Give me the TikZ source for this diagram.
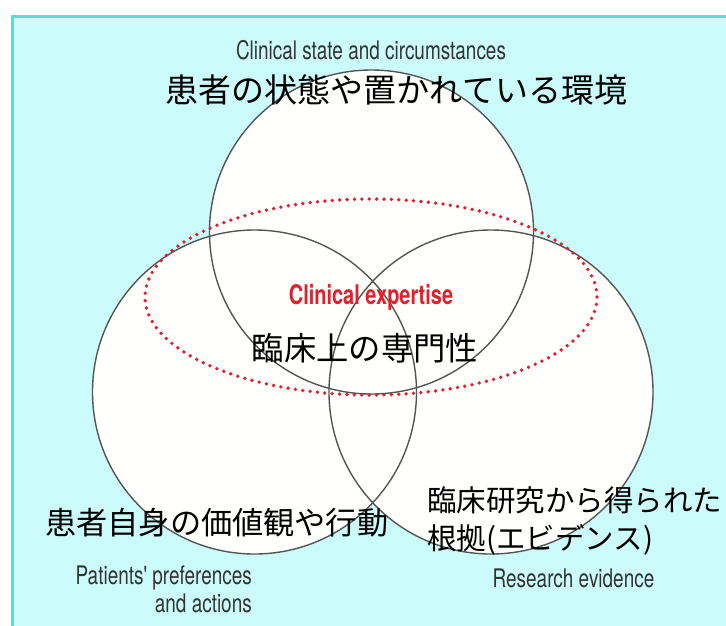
\documentclass[tikz,border=0pt]{standalone}
\usepackage{fontspec}
\newfontfamily\jp{Noto Sans CJK JP}
\newfontfamily\cond[FakeStretch=0.74]{TeX Gyre Heros}
\definecolor{bgc}{HTML}{CCFBFB}
\definecolor{framec}{HTML}{4FE2DA}
\definecolor{circline}{HTML}{555555}
\definecolor{circfill}{HTML}{FFFFFD}
\definecolor{redc}{HTML}{E0202C}
\definecolor{entext}{HTML}{333333}
\begin{document}
\begin{tikzpicture}[x=1pt,y=-1pt,
  venn/.style={draw=circline, line width=1.4pt},
  entxt/.style={text=entext, font=\cond\fontsize{25.6}{28}\selectfont, inner sep=0pt},
  jptxt/.style={text=black, inner sep=0pt},
  expert/.style={draw=redc, line width=3.8pt, line cap=round, dash pattern=on 0pt off 7.4pt}]
\useasboundingbox (0,0) rectangle (726,625);
\fill[white] (0,0) rectangle (726,625);
\begin{scope}
  \clip (0,0) rectangle (726,625);
  \draw[framec, line width=3pt, fill=bgc] (12.5,16) rectangle (760,660);
\end{scope}
% circle fills
\coordinate (ctop) at (371.5,232);
\coordinate (cleft) at (254.5,392);
\coordinate (cright) at (491,392);
\fill[circfill] (ctop) circle[radius=162];
\fill[circfill] (cleft) circle[radius=162];
\fill[circfill] (cright) circle[radius=162];
% circle outlines
\draw[venn] (ctop) circle[radius=162];
\draw[venn] (cleft) circle[radius=162];
\draw[venn] (cright) circle[radius=162];
% clinical expertise ellipse
\coordinate (cexp) at (371,297);
\draw[expert] (cexp) ellipse[x radius=226, y radius=98];
% texts
\node[entxt] (tstate) at (371,50) {Clinical state and circumstances};
\node[jptxt, font=\jp\fontsize{33}{33}\selectfont] (jstate) at (396.5,90) {患者の状態や置かれている環境};
\node[inner sep=0pt, text=redc, font=\cond\bfseries\fontsize{27}{28}\selectfont] (texp) at (371,297) {Clinical expertise};
\node[jptxt, font=\jp\fontsize{32.3}{33}\selectfont] (jexp) at (365,348) {臨床上の専門性};
\node[jptxt, font=\jp\fontsize{31.2}{33}\selectfont, anchor=west] (jpat) at (45,523) {患者自身の価値観や行動};
\node[jptxt, font=\jp\fontsize{29.5}{38.5}\selectfont, anchor=north west, align=left] (jres) at (427,486) {臨床研究から得られた\\根拠(エビデンス)};
\node[entxt, align=right, anchor=north east] (tpat) at (252,566) {Patients' preferences\\and actions};
\node[entxt] (tres) at (573.5,578) {Research evidence};
\end{tikzpicture}
\end{document}
